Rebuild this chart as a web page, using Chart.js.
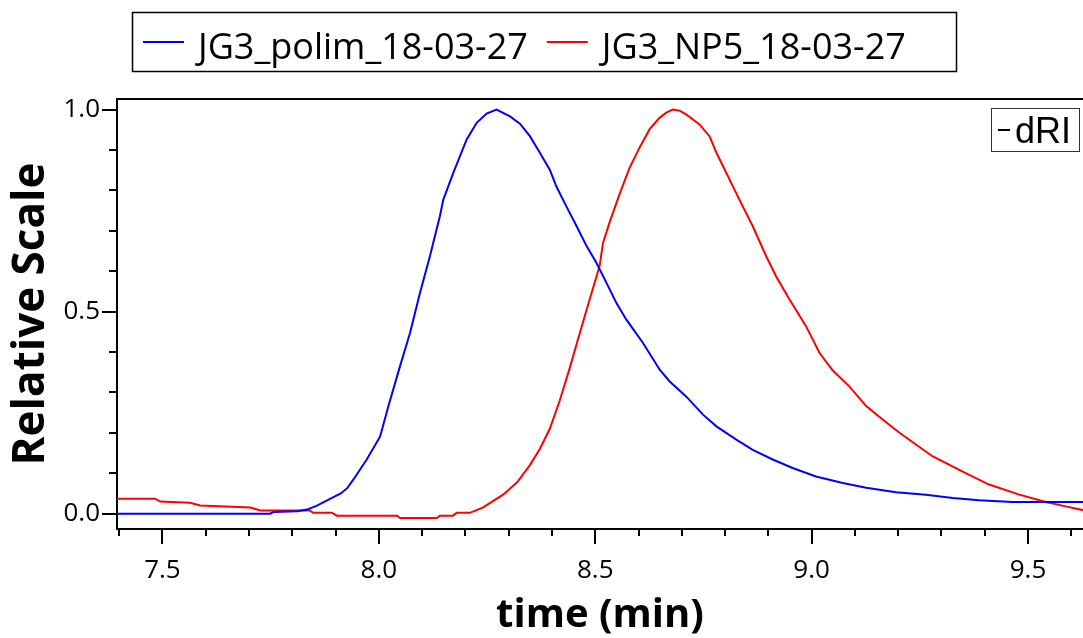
<!DOCTYPE html>
<html>
<head>
<meta charset="utf-8">
<script src="https://cdn.jsdelivr.net/npm/chart.js@4.4.1/dist/chart.umd.min.js"></script>
<style>
  html, body { margin: 0; padding: 0; background: #fff; }
  #wrap { width: 1083px; height: 638px; }
</style>
</head>
<body>
<div id="wrap"><canvas id="chart" width="1083" height="638"></canvas></div>
<script>
// GPC trace, relative scale vs elution time

const seriesNames = ['JG3_polim_18-03-27', 'JG3_NP5_18-03-27'];
const seriesColors = ['#0000ff', '#ff0000'];

// tick labels
const xMajorTicks = [7.5, 8.0, 8.5, 9.0, 9.5];
const xMinorTicks = [7.4, 7.6, 7.7, 7.8, 7.9, 8.1, 8.2, 8.3, 8.4, 8.6, 8.7, 8.8, 8.9, 9.1, 9.2, 9.3, 9.4, 9.6];
const yMajorTicks = [0.0, 0.5, 1.0];
const yMinorTicks = [0.1, 0.2, 0.3, 0.4, 0.6, 0.7, 0.8, 0.9];

// JG3_polim (blue)
const polimTime = [
  7.395, 7.749, 7.756, 7.811, 7.834, 7.857, 7.894, 7.912, 7.927, 7.941, 7.972,
  8.003, 8.022, 8.049, 8.072, 8.095, 8.118, 8.141, 8.149, 8.172, 8.203,
  8.226, 8.249, 8.272, 8.303, 8.326, 8.349, 8.372, 8.395, 8.410, 8.433,
  8.457, 8.480, 8.503, 8.526, 8.549, 8.572, 8.610, 8.649, 8.672, 8.710,
  8.749, 8.780, 8.826, 8.864, 8.910, 8.956, 9.010, 9.072, 9.126, 9.195,
  9.264, 9.326, 9.387, 9.464, 9.630
];
const polimValue = [
  0.000, 0.000, 0.004, 0.006, 0.010, 0.020, 0.040, 0.050, 0.063, 0.084, 0.134,
  0.191, 0.266, 0.365, 0.447, 0.546, 0.637, 0.736, 0.777, 0.843, 0.926,
  0.967, 0.990, 1.000, 0.983, 0.965, 0.934, 0.893, 0.851, 0.810, 0.761,
  0.711, 0.662, 0.620, 0.571, 0.521, 0.480, 0.423, 0.356, 0.327, 0.290,
  0.245, 0.216, 0.183, 0.158, 0.134, 0.113, 0.092, 0.076, 0.064, 0.053,
  0.047, 0.039, 0.033, 0.029, 0.029
];

// JG3_NP5 (red)
const np5Time = [
  7.395, 7.483, 7.495, 7.564, 7.587, 7.703, 7.726, 7.841, 7.848, 7.892,
  7.903, 8.042, 8.049, 8.134, 8.141, 8.171, 8.180, 8.210, 8.240, 8.287,
  8.319, 8.349, 8.372, 8.395, 8.418, 8.441, 8.460, 8.487, 8.510, 8.518,
  8.533, 8.556, 8.579, 8.602, 8.626, 8.649, 8.665, 8.679, 8.695, 8.710,
  8.741, 8.764, 8.780, 8.803, 8.833, 8.864, 8.895, 8.918, 8.949, 8.987,
  9.018, 9.049, 9.087, 9.126, 9.164, 9.203, 9.241, 9.279, 9.349, 9.410,
  9.480, 9.541, 9.587, 9.630
];
const np5Value = [
  0.037, 0.037, 0.030, 0.027, 0.020, 0.015, 0.008, 0.008, 0.002, 0.002,
  -0.005, -0.005, -0.011, -0.011, -0.005, -0.005, 0.002, 0.002, 0.015, 0.047,
  0.077, 0.120, 0.160, 0.210, 0.280, 0.360, 0.431, 0.530, 0.612, 0.670,
  0.720, 0.790, 0.855, 0.905, 0.952, 0.980, 0.993, 1.000, 0.997, 0.988,
  0.963, 0.934, 0.893, 0.843, 0.777, 0.711, 0.637, 0.587, 0.530, 0.464,
  0.398, 0.354, 0.315, 0.266, 0.233, 0.200, 0.171, 0.142, 0.104, 0.072,
  0.047, 0.029, 0.018, 0.008
];

const FONT = '"Open Sans", "Noto Sans", sans-serif';

function toPoints(times, values) {
  return times.map((t, i) => ({ x: t, y: values[i] }));
}

// Draws the frame top, tick marks, the boxed legend and the dRI tag
const decorPlugin = {
  id: 'decor',
  afterDraw(chart) {
    const { ctx, chartArea: a, scales: { x, y } } = chart;
    ctx.save();
    ctx.strokeStyle = '#000';
    ctx.lineWidth = 2;

    // top edge of plot frame
    ctx.beginPath();
    ctx.moveTo(a.left - 1, a.top);
    ctx.lineTo(a.right, a.top);
    ctx.stroke();

    // tick marks
    ctx.beginPath();
    xMajorTicks.forEach(v => {
      const px = Math.round(x.getPixelForValue(v));
      ctx.moveTo(px, a.bottom);
      ctx.lineTo(px, a.bottom + 15);
    });
    xMinorTicks.forEach(v => {
      const px = Math.round(x.getPixelForValue(v));
      ctx.moveTo(px, a.bottom);
      ctx.lineTo(px, a.bottom + 7);
    });
    yMajorTicks.forEach(v => {
      const py = Math.round(y.getPixelForValue(v));
      ctx.moveTo(a.left, py);
      ctx.lineTo(a.left - 15, py);
    });
    yMinorTicks.forEach(v => {
      const py = Math.round(y.getPixelForValue(v));
      ctx.moveTo(a.left, py);
      ctx.lineTo(a.left - 8, py);
    });
    ctx.stroke();

    // legend box
    ctx.lineWidth = 1.5;
    ctx.strokeRect(132.5, 12.5, 824, 59);
    ctx.font = '36px ' + FONT;
    ctx.textBaseline = 'alphabetic';
    ctx.textAlign = 'left';
    let lx = 143;
    chart.data.datasets.forEach(ds => {
      ctx.strokeStyle = ds.borderColor;
      ctx.lineWidth = 2;
      ctx.beginPath();
      ctx.moveTo(lx, 42);
      ctx.lineTo(lx + 41, 42);
      ctx.stroke();
      ctx.fillStyle = '#000';
      ctx.fillText(ds.label, lx + 55, 59);
      lx += 55 + ctx.measureText(ds.label).width + 19;
    });

    // dRI tag
    ctx.strokeStyle = '#333';
    ctx.lineWidth = 1;
    ctx.strokeRect(991.5, 108.5, 88, 43);
    ctx.strokeStyle = '#000';
    ctx.lineWidth = 2;
    ctx.beginPath();
    ctx.moveTo(998, 130);
    ctx.lineTo(1010, 130);
    ctx.stroke();
    ctx.fillStyle = '#000';
    ctx.font = '36px "Liberation Sans", Arial, sans-serif';
    ctx.fillText('dRI', 1015, 143);

    ctx.restore();
  }
};

new Chart(document.getElementById('chart'), {
  type: 'line',
  data: {
    datasets: [
      {
        label: seriesNames[0],
        data: toPoints(polimTime, polimValue),
        borderColor: seriesColors[0],
        borderWidth: 2,
        pointRadius: 0,
        tension: 0,
        fill: false
      },
      {
        label: seriesNames[1],
        data: toPoints(np5Time, np5Value),
        borderColor: seriesColors[1],
        borderWidth: 2,
        pointRadius: 0,
        tension: 0,
        fill: false
      }
    ]
  },
  options: {
    responsive: false,
    animation: false,
    devicePixelRatio: 1,
    layout: { padding: { top: 99, left: 0, right: 0, bottom: 0 } },
    plugins: {
      legend: { display: false },
      tooltip: { enabled: false }
    },
    scales: {
      x: {
        type: 'linear',
        min: 7.395,
        max: 9.627,
        afterBuildTicks: scale => { scale.ticks = xMajorTicks.map(v => ({ value: v })); },
        afterFit: scale => { scale.height = 109; },
        grid: { drawOnChartArea: false, drawTicks: false },
        border: { color: '#000', width: 2 },
        ticks: {
          color: '#000',
          font: { family: FONT, size: 26 },
          padding: 26,
          maxRotation: 0,
          autoSkip: false,
          callback: v => Number(v).toFixed(1)
        },
        title: {
          display: true,
          text: 'time (min)',
          color: '#000',
          font: { family: FONT, size: 40, weight: 'bold', lineHeight: 1.1 },
          padding: { top: 0, bottom: 0 }
        }
      },
      y: {
        type: 'linear',
        min: -0.038,
        max: 1.026,
        afterBuildTicks: scale => { scale.ticks = yMajorTicks.map(v => ({ value: v })); },
        afterFit: scale => { scale.width = 117; },
        grid: { drawOnChartArea: false, drawTicks: false },
        border: { color: '#000', width: 2 },
        ticks: {
          color: '#000',
          font: { family: FONT, size: 26 },
          padding: 17,
          callback: v => Number(v).toFixed(1)
        },
        title: {
          display: true,
          text: 'Relative Scale',
          color: '#000',
          font: { family: FONT, size: 44, weight: 'bold', lineHeight: 1.2 },
          padding: { top: 5, bottom: 0 }
        }
      }
    }
  },
  plugins: [decorPlugin]
});
</script>
</body>
</html>
